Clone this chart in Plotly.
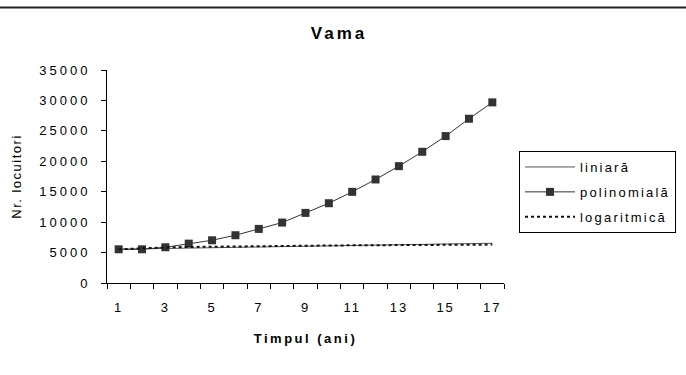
import plotly.graph_objects as go

years = list(range(1, 18))
tick_labels = ["1", "3", "5", "7", "9", "11", "13", "15", "17"]
tick_positions = [1, 3, 5, 7, 9, 11, 13, 15, 17]

liniara = [5550, 5610, 5670, 5740, 5800, 5860, 5920, 5980, 6040,
           6100, 6160, 6220, 6290, 6350, 6410, 6470, 6530]
polinomiala = [5540, 5540, 5870, 6470, 7020, 7850, 8890, 9930, 11520,
               13110, 14980, 17010, 19200, 21560, 24140, 26990, 29680]
logaritmica = [5540, 5730, 5840, 5920, 5980, 6030, 6070, 6100, 6140,
               6160, 6190, 6210, 6240, 6260, 6270, 6290, 6310]

FONT = "Liberation Sans, Arial, sans-serif"

fig = go.Figure()
fig.add_trace(go.Scatter(x=years, y=liniara, mode="lines", name="liniară",
                         legendgroup="a",
                         line=dict(color="#555555", width=1)))
fig.add_trace(go.Scatter(x=years, y=polinomiala, mode="lines+markers", name="polinomială",
                         legendgroup="b",
                         line=dict(color="#333333", width=1),
                         marker=dict(symbol="square", size=8, color="#333333")))
fig.add_trace(go.Scatter(x=years, y=logaritmica, mode="lines", name="logaritmică",
                         legendgroup="c",
                         line=dict(color="#111111", width=2, dash="dot")))

L, R, T, B = 107, 182, 70, 92
W, H = 686, 375
pw = W - L - R
ph = H - T - B

fig.update_layout(
    width=W, height=H,
    margin=dict(l=L, r=R, t=T, b=B, autoexpand=False),
    paper_bgcolor="white", plot_bgcolor="white",
    font=dict(family=FONT, size=12, color="black"),
    title=dict(text="<b>Vama</b>", x=339 / W, xanchor="center",
               y=1 - 33 / H, yanchor="middle",
               font=dict(family=FONT, size=17, color="black")),
    showlegend=True,
    legend=dict(x=(519 - L) / pw, xanchor="left", y=(H - B - 151) / ph, yanchor="top",
                bordercolor="black", borderwidth=1, bgcolor="white",
                font=dict(family=FONT, size=13, color="black"),
                traceorder="grouped", tracegroupgap=5, itemwidth=50),
    xaxis=dict(range=[0.5, 17.5], tickmode="array", tickvals=tick_positions,
               ticktext=tick_labels, ticks="", showgrid=False, zeroline=False,
               showline=True, linecolor="black", linewidth=1,
               ticklabelstandoff=12, automargin=False,
               tickfont=dict(family=FONT, size=13, color="black"),
               minor=dict(tickvals=[i + 0.5 for i in range(0, 18)], ticks="outside",
                          ticklen=5, tickcolor="black", tickwidth=1, showgrid=False),
               title=dict(text="<b>Timpul (ani)</b>", standoff=20,
                          font=dict(family=FONT, size=13, color="black"))),
    yaxis=dict(range=[0, 35000], tickmode="linear", tick0=0, dtick=5000,
               tickformat="d", automargin=False,
               ticks="outside", ticklen=5, tickcolor="black", showgrid=False,
               zeroline=False, showline=True, linecolor="black", linewidth=1,
               ticklabelstandoff=8,
               tickfont=dict(family=FONT, size=13, color="black"),
               title=dict(text="Nr. locuitori", standoff=14,
                          font=dict(family=FONT, size=13, color="black"))),
)

fig.add_shape(type="line", xref="paper", yref="paper",
              x0=-L / pw, x1=(W - L) / pw, y0=(H - B - 7.5) / ph, y1=(H - B - 7.5) / ph,
              line=dict(color="#222222", width=2))

# Wider letter spacing as in the original spreadsheet rendering; a tiny font-size
# nudge afterwards makes plotly re-measure the spaced text for the legend box.
css = (".xtick text{letter-spacing:2px}"
       ".ytick text{letter-spacing:3px}"
       ".legendtext{letter-spacing:2.2px}"
       ".gtitle{letter-spacing:3px}"
       ".xtitle{letter-spacing:2.5px}"
       ".ytitle{letter-spacing:1.5px}")
post = ("var s=document.createElement('style');s.textContent='" + css +
        "';document.head.appendChild(s);"
        "var gd=document.getElementById('{plot_id}');"
        "Plotly.relayout(gd,{'legend.font.size':13.01,"
        "'yaxis.tickfont.size':13.01,'xaxis.tickfont.size':13.01});")

fig.write_html("out.html", post_script=post)
